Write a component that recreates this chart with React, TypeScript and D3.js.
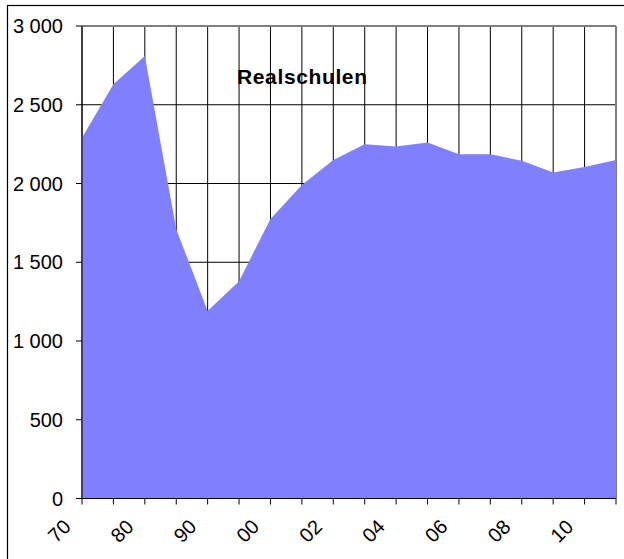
import React from "react";
import * as d3 from "d3";

const categories = ["70", "75", "80", "85", "90", "95", "00", "01", "02", "03", "04", "05", "06", "07", "08", "09", "10", "11"];
const values = [2290, 2630, 2810, 1710, 1190, 1380, 1775, 1990, 2150, 2250, 2235, 2260, 2185, 2185, 2145, 2070, 2105, 2150];
const labeledCategories = ["70", "80", "90", "00", "02", "04", "06", "08", "10"];
const yTicks = [0, 500, 1000, 1500, 2000, 2500, 3000];
const title = "Realschulen";

const W = 624;
const H = 559;
const left = 82;
const right = 616;
const top = 26;
const bottom = 498.5;

const locale = d3.formatLocale({ decimal: ",", thousands: " ", grouping: [3], currency: ["", ""] });
const fmt = locale.format(",d");

export default function App() {
  const x = d3.scalePoint<string>().domain(categories).range([left, right]).padding(0);
  const y = d3.scaleLinear().domain([0, 3000]).range([bottom, top]);
  const area = d3
    .area<number>()
    .x((_, i) => x(categories[i]) as number)
    .y0(y(0))
    .y1((d) => y(d));
  const font = "'Liberation Sans', Arial, sans-serif";
  return (
    <svg width={W} height={H} style={{ position: "absolute", left: 0, top: 0, background: "#fff" }}>
      <rect x={7.5} y={5.5} width={800} height={800} fill="none" stroke="#000" strokeWidth={1.2} />
      {categories.map((c) => (
        <line key={"v" + c} x1={x(c)} x2={x(c)} y1={top} y2={bottom} stroke="#000" strokeWidth={1} />
      ))}
      {yTicks.map((t) => (
        <line key={"h" + t} x1={left} x2={right} y1={y(t)} y2={y(t)} stroke="#000" strokeWidth={1} />
      ))}
      <line x1={left} x2={right} y1={top} y2={top} stroke="#808080" strokeWidth={2} />
      <line x1={right} x2={right} y1={top} y2={bottom} stroke="#808080" strokeWidth={2} />
      <path d={area(values) || ""} fill="#8080FF" stroke="none" />
      <line x1={left} x2={left} y1={top} y2={bottom} stroke="#000" strokeWidth={1} />
      <line x1={left} x2={right} y1={bottom} y2={bottom} stroke="#000" strokeWidth={1} />
      {yTicks.map((t) => (
        <g key={"yt" + t}>
          <line x1={left - 6} x2={left} y1={y(t)} y2={y(t)} stroke="#000" />
          <text x={63} y={y(t)} dy="0.36em" textAnchor="end" fontFamily={font} fontSize={20} fill="#000">
            {fmt(t)}
          </text>
        </g>
      ))}
      {categories.map((c) => (
        <line key={"xt" + c} x1={x(c)} x2={x(c)} y1={bottom} y2={bottom + 6} stroke="#000" />
      ))}
      {labeledCategories.map((c) => {
        const cx = (x(c) as number) - 10;
        const cy = 528;
        return (
          <text
            key={"xl" + c}
            x={cx}
            y={cy}
            textAnchor="end"
            transform={`rotate(-45, ${cx}, ${cy})`}
            fontFamily={font}
            fontSize={20}
            fill="#000"
          >
            {c}
          </text>
        );
      })}
      <text x={302} y={84} textAnchor="middle" fontFamily={font} fontWeight="bold" fontSize={21} textLength={130} lengthAdjust="spacing" fill="#000">
        {title}
      </text>
    </svg>
  );
}
